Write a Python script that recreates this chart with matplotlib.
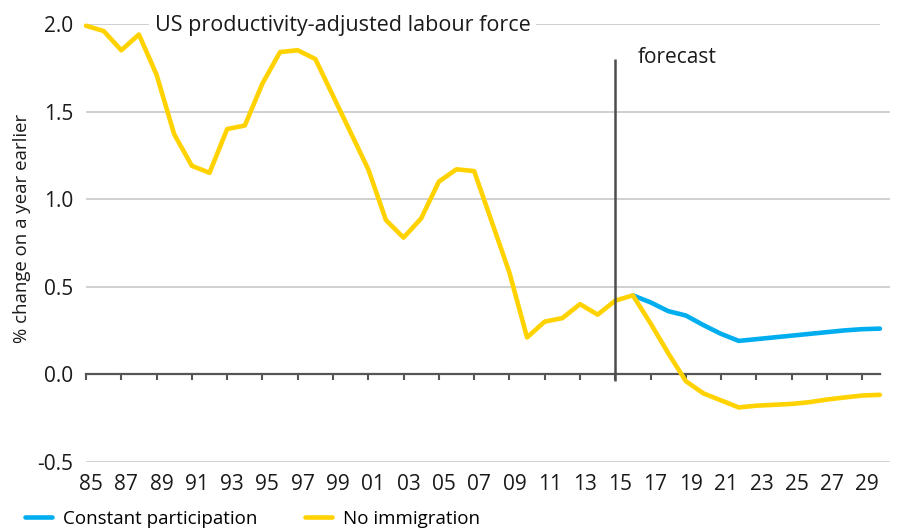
#!/usr/bin/env python3
"""US productivity-adjusted labour force: constant participation vs no immigration."""

import matplotlib

matplotlib.use("Agg")
import matplotlib.pyplot as plt
import matplotlib.transforms as mtransforms
import numpy as np
from matplotlib.lines import Line2D

YEARS = list(range(1985, 2031))

# history (1985-2016) followed by the no-immigration forecast (2017-2030)
NO_IMMIGRATION = [
    1.99, 1.96, 1.85, 1.94, 1.71, 1.37, 1.19, 1.15, 1.40, 1.42,
    1.66, 1.84, 1.85, 1.80, 1.59, 1.38, 1.17, 0.88, 0.78, 0.89,
    1.10, 1.17, 1.16, 0.87, 0.58, 0.21, 0.30, 0.32, 0.40, 0.34,
    0.42, 0.45, 0.29, 0.12, -0.04, -0.11, -0.15, -0.19, -0.18, -0.175,
    -0.17, -0.16, -0.145, -0.133, -0.122, -0.118,
]

# constant participation forecast starts from the 2016 value
CONSTANT_START = 2016
CONSTANT_PARTICIPATION = [
    0.45, 0.41, 0.36, 0.335, 0.28, 0.23, 0.19, 0.20, 0.21, 0.22,
    0.23, 0.24, 0.25, 0.257, 0.26,
]

FORECAST_YEAR = 2015
Y_TICKS = [-0.5, 0.0, 0.5, 1.0, 1.5, 2.0]
X_TICKS = list(range(1985, 2030, 2))
X_TICK_LABELS = [f"{y % 100:02d}" for y in X_TICKS]

TITLE = "US productivity-adjusted labour force"
Y_LABEL = "% change on a year earlier"
LEGEND_LABELS = ["Constant participation", "No immigration"]

YELLOW = "#FFD200"
BLUE = "#00AEEF"
GRID = "#C8C8C8"
AXIS = "#555555"
TEXT = "#1A1A1A"


def main() -> None:
    plt.rcParams["font.family"] = ["Open Sans", "DejaVu Sans"]
    plt.rcParams["font.size"] = 15

    fig = plt.figure(figsize=(9.14, 5.31), dpi=100)
    ax = fig.add_axes([0.0941, 0.1305, 0.8796, 0.8243])

    x_right = 2030.57
    ax.set_xlim(1985, x_right)
    ax.set_ylim(-0.5, 2.0)

    # gridlines (zero line is the axis itself)
    for v in Y_TICKS:
        if v == 0.0:
            continue
        ax.hlines(v, 1985, 2030 if v == 2.0 else x_right, color=GRID,
                  linewidth=1.2, zorder=1)

    years = np.array(YEARS)
    cp_years = np.arange(CONSTANT_START, CONSTANT_START + len(CONSTANT_PARTICIPATION))

    ax.plot(cp_years, CONSTANT_PARTICIPATION, color=BLUE, linewidth=3.3,
            solid_joinstyle="round", solid_capstyle="round", zorder=3,
            clip_on=False)
    ax.plot(years, NO_IMMIGRATION, color=YELLOW, linewidth=3.3,
            solid_joinstyle="round", solid_capstyle="round", zorder=4,
            clip_on=False)

    ax.vlines(FORECAST_YEAR, -0.04, 1.8, color="#4D4D4D", linewidth=1.8, zorder=5)
    ax.text(FORECAST_YEAR + 1.3, 1.81, "forecast", ha="left", va="center",
            color=TEXT, fontsize=15)

    ax.text(1988.9, 1.99, TITLE, ha="left", va="center", color=TEXT,
            fontsize=15.5, zorder=6,
            bbox=dict(facecolor="white", edgecolor="none", pad=4))

    for side in ("top", "right", "left"):
        ax.spines[side].set_visible(False)
    ax.spines["bottom"].set_position(("data", 0))
    ax.spines["bottom"].set_bounds(1985, 2030)
    ax.spines["bottom"].set_color(AXIS)
    ax.spines["bottom"].set_linewidth(1.6)
    ax.spines["bottom"].set_zorder(2)

    ax.set_xticks(X_TICKS)
    ax.set_xticklabels(X_TICK_LABELS)
    ax.tick_params(axis="x", direction="out", length=4, width=1.5, color=AXIS,
                   pad=68, labelcolor=TEXT, labelsize=15)
    # labels sit a few pixels right of their tick marks
    shift = mtransforms.ScaledTranslation(5 / 100, 0, fig.dpi_scale_trans)
    for label in ax.get_xticklabels():
        label.set_transform(label.get_transform() + shift)

    ax.set_yticks(Y_TICKS)
    ax.set_yticklabels([f"{v:.1f}" for v in Y_TICKS])
    ax.tick_params(axis="y", length=0, pad=9, labelcolor=TEXT, labelsize=15)

    ax.set_ylabel(Y_LABEL, color=TEXT, va="center", fontsize=13.4)
    ax.yaxis.set_label_coords(-0.0796, 0.534)

    handles = [
        Line2D([0], [0], color=BLUE, linewidth=3.3, solid_capstyle="round"),
        Line2D([0], [0], color=YELLOW, linewidth=3.3, solid_capstyle="round"),
    ]
    fig.legend(handles, LEGEND_LABELS, loc="center left",
               bbox_to_anchor=(25 / 914, 1 - 519 / 531), ncol=2, frameon=False,
               borderpad=0, borderaxespad=0, handlelength=1.44,
               handletextpad=0.59, columnspacing=2.55, fontsize=13.5)

    fig.savefig("out.png", dpi=100)
    plt.close(fig)


if __name__ == "__main__":
    main()
